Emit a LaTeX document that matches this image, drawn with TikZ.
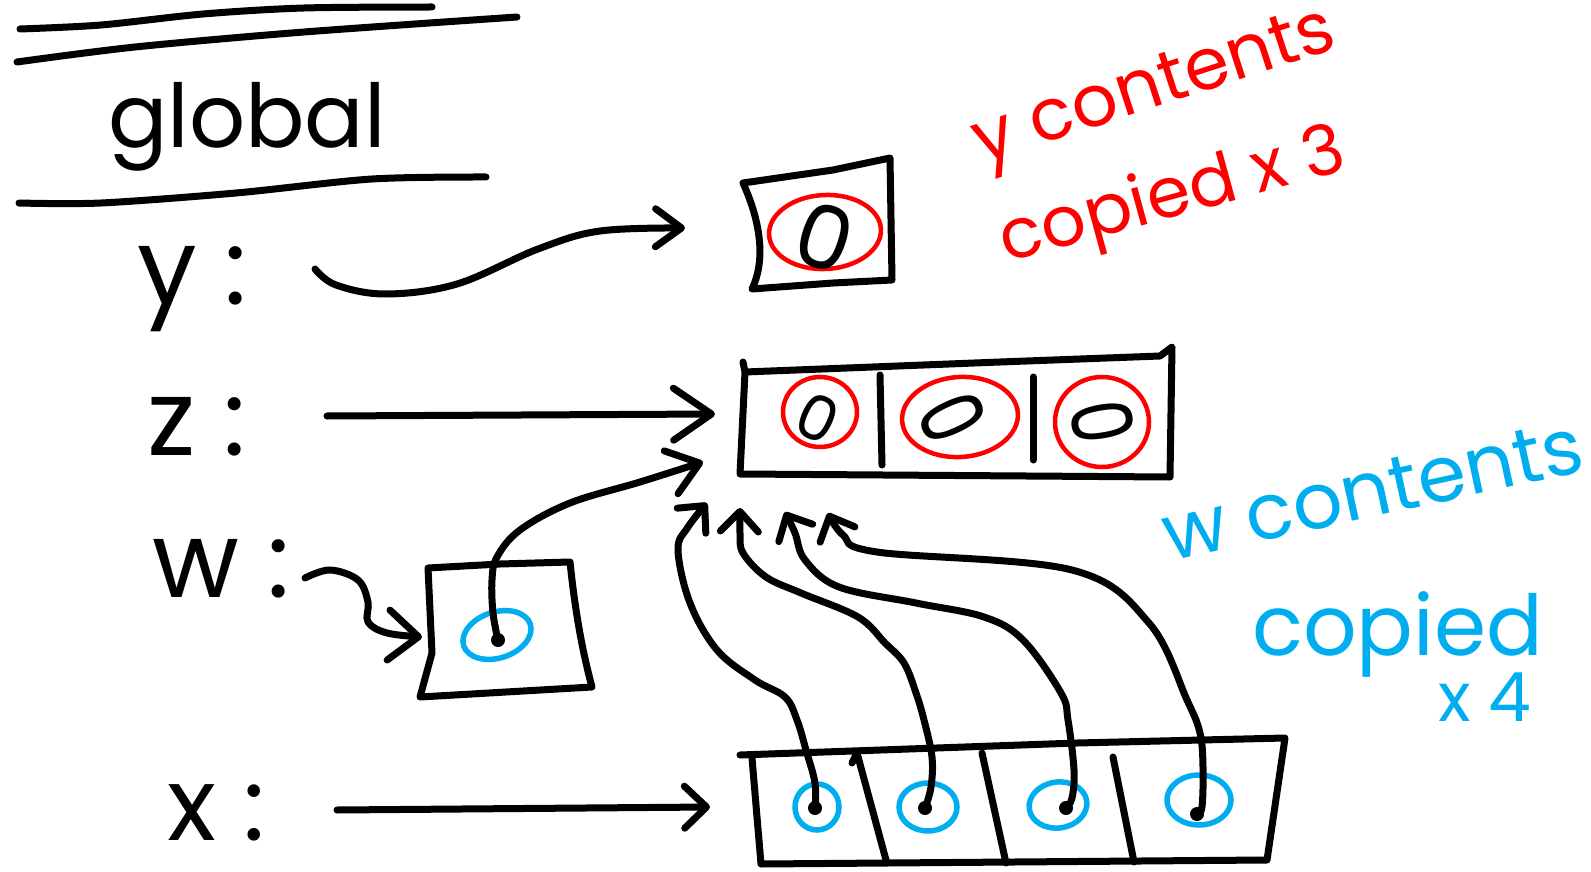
\documentclass[tikz,border=0pt]{standalone}
\usepackage{fontspec}
\setmainfont{Poppins}
\usetikzlibrary{arrows.meta}
\definecolor{penred}{RGB}{255,0,0}
\definecolor{penblue}{RGB}{0,174,239}
\tikzset{
  pen/.style={line width=7pt, line cap=round, line join=round},
  redpen/.style={line width=4.5pt, draw=penred},
  bluepen/.style={line width=5.5pt, draw=penblue},
  harrow/.style 2 args={-{Straight Barb[length=#1,width=#2,round]}},
  txt/.style={inner sep=0pt, outer sep=0pt},
  lbl/.style={txt, anchor=base west, font=\fontsize{106}{106}\selectfont},
  zero/.style={txt, font=\fontsize{#1}{#1}\selectfont},
  dot/.style={fill=black},
}
\begin{document}
\begin{tikzpicture}[x=1pt,y=-1pt]
\useasboundingbox (0,0) rectangle (1591,872);

% header lines and title
\draw[pen] plot[smooth] coordinates {(20,29) (101,25) (203,14) (304,8) (432,7)};
\draw[pen] plot[smooth] coordinates {(17,62) (135,47) (304,32) (517,17)};
\draw[pen] plot[smooth] coordinates {(19,203) (101,203) (236,193) (372,179) (486,177)};
\node[txt, anchor=base west, font=\fontsize{88}{88}\selectfont] (title) at (108,148) {global};

% variable labels
\node[lbl] (ly) at (137,304) {y :};
\node[lbl] (lz) at (147,455) {z :};
\node[lbl] (lw) at (152,597) {w :};
\node[lbl, font=\fontsize{102}{102}\selectfont] (lx) at (167,840) {x :};

% y box
\draw[pen] (743,183) -- (833,170) -- (890,158) -- (892,280) -- (833,283) -- (752,289)
  .. controls (765,262) and (762,225) .. (743,183);
\draw[redpen] (825,232) ellipse [x radius=56pt, y radius=37pt, rotate=3];
\node[zero=88, rotate=-18] (y0) at (825,237) {0};

% z box
\draw[pen] (743,362) -- (745,372) -- (1000,362) -- (1160,356) -- (1172,347) -- (1170,477) -- (740,474) -- (745,372);
\draw[pen] (880,375) -- (882,465);
\draw[pen] (1033,377) -- (1033,460);
\draw[redpen] (820,412) ellipse [x radius=37pt, y radius=35pt];
\draw[redpen] (960,417) ellipse [x radius=58pt, y radius=40pt, rotate=4];
\draw[redpen] (1102,422) ellipse [x radius=47pt, y radius=45pt];
\node[zero=62, rotate=-25] (z0a) at (818,418) {0};
\node[zero=88, rotate=-65, xscale=0.75] (z0b) at (953,418) {0};
\node[zero=84, rotate=-80, xscale=0.8] (z0c) at (1103,422) {0};

% w box
\draw[pen] (428,568) -- (500,564) -- (570,562) .. controls (575,610) and (582,650) .. (592,687)
  -- (420,697) -- (432,653) -- cycle;
\draw[bluepen] (497,635) ellipse [x radius=35pt, y radius=23pt, rotate=18];
\coordinate (wd) at (498,640);
\fill[dot] (wd) circle [radius=7pt];

% x box
\draw[pen] (740,755) -- (1077,743) -- (1285,738) -- (1267,860) -- (761,864) -- (752,758);
\draw[pen] (852,763) -- (857,753) -- (886,860);
\draw[pen] (982,753) -- (1006,863);
\draw[pen] (1113,757) -- (1134,862);
\draw[bluepen] (817,807) ellipse [x radius=22pt, y radius=23pt];
\draw[bluepen] (928,807) ellipse [x radius=29pt, y radius=24pt];
\draw[bluepen] (1058,805) ellipse [x radius=29pt, y radius=23pt, rotate=8];
\draw[bluepen] (1199,800) ellipse [x radius=32pt, y radius=25pt];
\coordinate (d1) at (815,808);
\coordinate (d2) at (925,808);
\coordinate (d3) at (1066,808);
\coordinate (d4) at (1197,814);
\foreach \d in {d1,d2,d3,d4} \fill[dot] (\d) circle [radius=7pt];

% connectors from labels
\coordinate (ys) at (315,269); \coordinate (yt) at (685,228);
\coordinate (zs) at (327,416); \coordinate (zt) at (715,414);
\coordinate (ws) at (305,578); \coordinate (wt) at (422,637);
\coordinate (xs) at (337,810); \coordinate (xt) at (710,807);
\draw[pen, harrow={26pt}{38pt}] plot[smooth, tension=0.6] coordinates {(ys) (336,285) (386,294) (457,284) (538,249) (600,231) (yt)};
\draw[pen, harrow={38pt}{52pt}] (zs) -- (zt);
\draw[pen, harrow={30pt}{50pt}] plot[smooth, tension=0.6] coordinates {(ws) (330,570) (358,580) (368,602) (368,622) (387,633) (wt)};
\draw[pen, harrow={22pt}{42pt}] (xs) -- (xt);

% copies into z
\coordinate (wzt) at (703,462);
\coordinate (t1) at (707,503);
\coordinate (t2) at (740,508);
\coordinate (t3) at (785,512);
\coordinate (t4) at (828,513);
\draw[pen, harrow={30pt}{45pt}] plot[smooth, tension=0.6] coordinates {(wd) (493,613) (492,580) (497,557) (520,530) (570,503) (640,482) (wzt)};
\draw[pen, harrow={20pt}{38pt}] plot[smooth, tension=0.6] coordinates {(d1) (815,783) (806,750) (797,720) (785,697) (755,680) (717,650) (690,603) (678,550) (688,527) (t1)};
\draw[pen, harrow={20pt}{38pt}] plot[smooth, tension=0.6] coordinates {(d2) (931,787) (932,757) (924,720) (916,693) (904,663) (885,643) (858,617) (801,593) (766,577) (743,553) (740,533) (t2)};
\draw[pen, harrow={20pt}{38pt}] plot[smooth, tension=0.6] coordinates {(d3) (1072,798) (1074,770) (1068,720) (1061,693) (1023,640) (984,617) (916,603) (839,587) (805,560) (795,533) (t3)};
\draw[pen, harrow={20pt}{38pt}] plot[smooth, tension=0.6] coordinates {(d4) (1202,807) (1203,767) (1200,733) (1187,700) (1149,623) (1072,570) (877,552) (843,535) (t4)};

% annotations
\node[txt, anchor=base, rotate=18, text=penred, font=\fontsize{72}{72}\selectfont] (ycont) at (1160,106) {y contents};
\node[txt, anchor=base, rotate=15.3, text=penred, font=\fontsize{70}{70}\selectfont] (ycop) at (1178,216) {copied x 3};
\node[txt, anchor=base, rotate=12.3, text=penblue, font=\fontsize{78}{78}\selectfont] (wcont) at (1378,516) {w contents};
\node[txt, anchor=base west, text=penblue, font=\fontsize{84}{84}\selectfont] (wcop) at (1252,655) {copied};
\node[txt, anchor=base west, text=penblue, font=\fontsize{68}{68}\selectfont] (wx4) at (1438,721) {x 4};
\end{tikzpicture}
\end{document}
